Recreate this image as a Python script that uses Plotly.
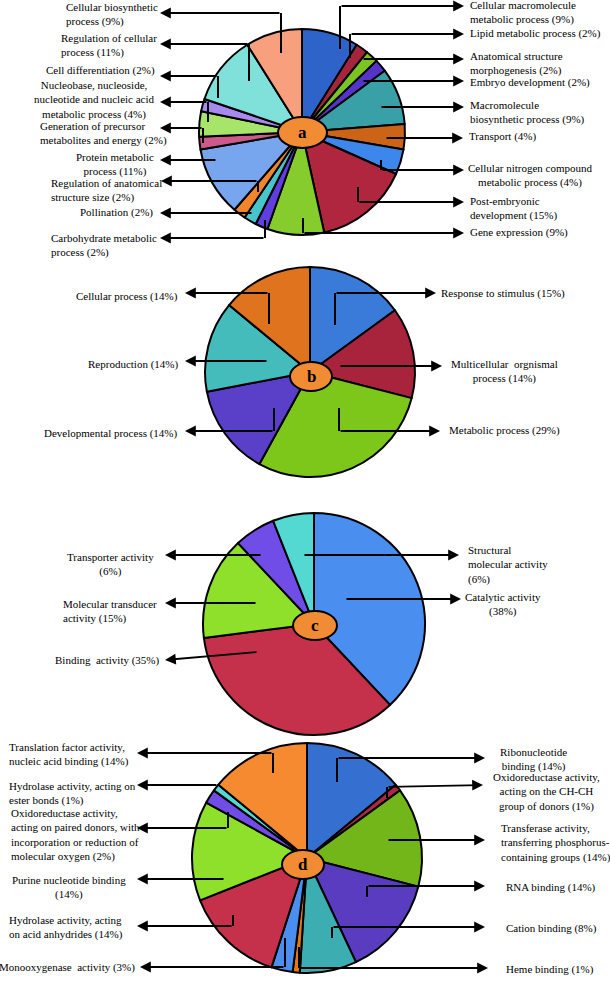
import plotly.graph_objects as go

W, H = 610, 982

# ---------------- data ----------------
a_labels = ["Cellular macromolecule<br>metabolic process (9%)", "Lipid metabolic process (2%)",
            "Anatomical structure<br>morphogenesis (2%)", "Embryo development (2%)",
            "Macromolecule<br>biosynthetic process (9%)", "Transport (4%)",
            "Cellular nitrogen compound<br>metabolic process (4%)", "Post-embryonic<br>development (15%)",
            "Gene expression (9%)", "Carbohydrate metabolic<br>process (2%)", "Pollination (2%)",
            "Regulation of anatomical<br>structure size (2%)", "Protein metabolic<br>process (11%)",
            "Generation of precursor<br>metabolites and energy (2%)",
            "Nucleobase, nucleoside,<br>nucleotide and nucleic acid<br>metabolic process (4%)",
            "Cell differentiation (2%)", "Regulation of cellular<br>process (11%)",
            "Cellular biosynthetic<br>process (9%)"]
a_values = [9, 2, 2, 2, 9, 4, 4, 15, 9, 2, 2, 2, 11, 2, 4, 2, 11, 9]

b_labels = ["Response to stimulus (15%)", "Multicellular\u00a0 orgnismal<br>process (14%)",
            "Metabolic process (29%)", "Developmental process (14%)",
            "Reproduction (14%)", "Cellular process (14%)"]
b_values = [15, 14, 29, 14, 14, 14]

c_labels = ["Catalytic activity<br>(38%)", "Binding\u00a0 activity (35%)",
            "Molecular transducer<br>activity (15%)", "Transporter activity<br>(6%)",
            "Structural<br>molecular activity<br>(6%)"]
c_values = [38, 35, 15, 6, 6]

d_labels = ["Ribonucleotide<br>binding (14%)",
            "Oxidoreductase activity,<br>acting on the CH-CH<br>group of donors (1%)",
            "Transferase activity,<br>transferring phosphorus-<br>containing groups (14%)",
            "RNA binding (14%)", "Cation binding (8%)", "Heme binding (1%)",
            "Monooxygenase\u00a0 activity (3%)",
            "Hydrolase activity, acting<br>on acid anhydrides (14%)",
            "Purine nucleotide binding<br>(14%)",
            "Oxidoreductase activity,<br>acting on paired donors, with<br>incorporation or reduction of<br>molecular oxygen (2%)",
            "Hydrolase activity, acting on<br>ester bonds (1%)",
            "Translation factor activity,<br>nucleic acid binding (14%)"]
d_values = [14, 1, 14, 14, 8, 1, 3, 14, 14, 2, 1, 14]

# ---------------- styles ----------------
a_colors = ["#2E63C9", "#A5263C", "#7CC423", "#5634C8", "#38A0A6", "#CC6418", "#3D86EB",
            "#B0263E", "#85CC2C", "#5F3FE0", "#48C4CC", "#F0852C", "#78A6EE", "#CC5A8A",
            "#A6E46A", "#A68AEE", "#80E0DA", "#F8A07E"]
b_colors = ["#3A7AD8", "#A8243C", "#7DC61A", "#5A3FC8", "#45BCBC", "#E0741E"]
c_colors = ["#4A8FF0", "#C5304A", "#8EE02A", "#6F4DE6", "#54D8D2"]
d_colors = ["#3570D0", "#B0283E", "#72B61A", "#5A3CC0", "#3CADB0", "#E07A18",
            "#4A8FF0", "#C5304A", "#8EE02A", "#6F4DE6", "#54D8D2", "#F58A30"]

FONT = "Liberation Serif"


def px(x):
    return x / W


def py(y):
    return 1 - y / H


# pie centre / radius / centre-ellipse box / letter (pixels)
pies = [
    (a_labels, a_values, a_colors, (302, 132, 103), (278, 117, 327, 148), "a"),
    (b_labels, b_values, b_colors, (310, 372, 105), (290, 362, 332, 391), "b"),
    (c_labels, c_values, c_colors, (314, 624, 111), (293, 611, 337, 640), "c"),
    (d_labels, d_values, d_colors, (307, 858, 115), (282, 850, 324, 879), "d"),
]

# label placement: (x, y, anchor, connector points ending at arrow tip)
a_place = [
    (468, 12.5, "left", [(340, 49), (340, 6), (464, 6)]),
    (468, 33, "left", [(350, 58), (350, 34), (464, 34)]),
    (468, 63.5, "left", [(362, 59), (464, 59)]),
    (468, 82, "left", [(362, 81), (464, 81)]),
    (468, 112, "left", [(380, 107), (464, 107)]),
    (467, 137, "left", [(385, 138), (463, 138)]),
    (530, 176, "center", [(381, 160), (381, 170), (464, 170)]),
    (468, 208.5, "left", [(358, 187), (358, 202), (464, 202)]),
    (468, 233, "left", [(303, 218), (303, 233), (464, 233)]),
    (49, 245.5, "left", [(265, 220), (265, 238), (160, 238)]),
    (155, 212, "right", [(253, 213), (160, 213)]),
    (49, 190.5, "left", [(258, 192), (258, 181), (161, 181)]),
    (115, 164, "center", [(217, 160), (160, 160)]),
    (38, 133.5, "left", [(203, 143), (203, 128), (160, 128)]),
    (94, 100, "center", [(208, 122), (208, 102), (160, 102)]),
    (157, 71, "right", [(218, 98), (218, 76), (160, 76)]),
    (59, 46, "left", [(249, 81), (249, 44), (160, 44)]),
    (64, 14.5, "left", [(281, 53), (281, 13), (160, 13)]),
]
b_place = [
    (439, 293, "left", [(335, 325), (335, 293), (436, 293)]),
    (504, 371.5, "center", [(339, 366), (442, 366)]),
    (447, 431, "left", [(339, 408), (339, 431), (440, 431)]),
    (180, 433, "right", [(274, 408), (274, 431), (185, 431)]),
    (180, 364, "right", [(268, 361), (185, 361)]),
    (180, 296, "right", [(269, 324), (269, 293), (185, 293)]),
]
c_place = [
    (503, 604, "center", [(345, 599), (461, 599)]),
    (162, 660, "right", [(258, 652), (165, 660)]),
    (61, 611.5, "left", [(257, 603), (165, 603)]),
    (110, 564, "center", [(262, 555), (165, 555)]),
    (466, 565, "left", [(303, 555), (459, 555)]),
]
d_place = [
    (533, 759, "center", [(337, 782), (337, 758), (485, 758)]),
    (546, 792, "center", [(387, 798), (387, 787), (483, 785)]),
    (499, 843, "left", [(387, 840), (485, 840)]),
    (504, 887, "left", [(367, 897), (367, 886), (485, 886)]),
    (504, 928, "left", [(332, 938), (332, 927), (485, 927)]),
    (504, 969, "left", [(299, 947), (299, 968), (488, 968)]),
    (137, 967, "right", [(285, 938), (285, 967), (140, 967)]),
    (7, 927, "left", [(233, 915), (233, 926), (137, 926)]),
    (69, 887.5, "center", [(225, 879), (137, 879)]),
    (9, 835, "left", [(228, 812), (228, 828), (137, 828)]),
    (7, 793.5, "left", [(218, 785), (137, 785)]),
    (7, 754, "left", [(273, 773), (273, 753), (137, 753)]),
]
places = [a_place, b_place, c_place, d_place]

fig = go.Figure()
shapes = []
annotations = []

for (labels, values, colors, (cx, cy, r), box, letter), place in zip(pies, places):
    fig.add_trace(go.Pie(
        labels=labels, values=values, sort=False, direction="clockwise", rotation=0,
        marker=dict(colors=colors, line=dict(color="black", width=2)),
        textinfo="none", hoverinfo="label", showlegend=False,
        domain=dict(x=[px(cx - r), px(cx + r)], y=[py(cy + r), py(cy - r)]),
    ))
    shapes.append(dict(type="circle", xref="paper", yref="paper",
                       x0=px(box[0]), x1=px(box[2]), y0=py(box[3]), y1=py(box[1]),
                       fillcolor="#F28C34", line=dict(color="black", width=2)))
    annotations.append(dict(x=px((box[0] + box[2]) / 2), y=py((box[1] + box[3]) / 2),
                            xref="paper", yref="paper", text="<b>%s</b>" % letter,
                            xanchor="center", yanchor="middle",
                            showarrow=False, font=dict(family=FONT, size=17, color="black")))
    for label, (tx, ty, anchor, pts) in zip(labels, place):
        annotations.append(dict(x=px(tx), y=py(ty), xref="paper", yref="paper", text=label,
                                showarrow=False, xanchor=anchor, yanchor="middle", align=anchor,
                                font=dict(family=FONT, size=11, color="black")))
        for (x0, y0), (x1, y1) in zip(pts[:-2], pts[1:-1]):
            shapes.append(dict(type="line", xref="paper", yref="paper",
                               x0=px(x0), y0=py(y0), x1=px(x1), y1=py(y1),
                               line=dict(color="black", width=2)))
        (sx, sy), (ex, ey) = pts[-2], pts[-1]
        annotations.append(dict(x=px(ex), y=py(ey), xref="paper", yref="paper", text="",
                                showarrow=True, ax=sx - ex, ay=sy - ey, arrowhead=2,
                                arrowsize=1.2, arrowwidth=1.8, arrowcolor="black", standoff=0))

fig.update_layout(width=W, height=H, margin=dict(l=0, r=0, t=0, b=0),
                  paper_bgcolor="white", plot_bgcolor="white",
                  shapes=shapes, annotations=annotations, showlegend=False)

fig.write_html("out.html", config={"displayModeBar": False},
               post_script="document.body.style.margin='0';document.body.style.overflow='hidden';")
